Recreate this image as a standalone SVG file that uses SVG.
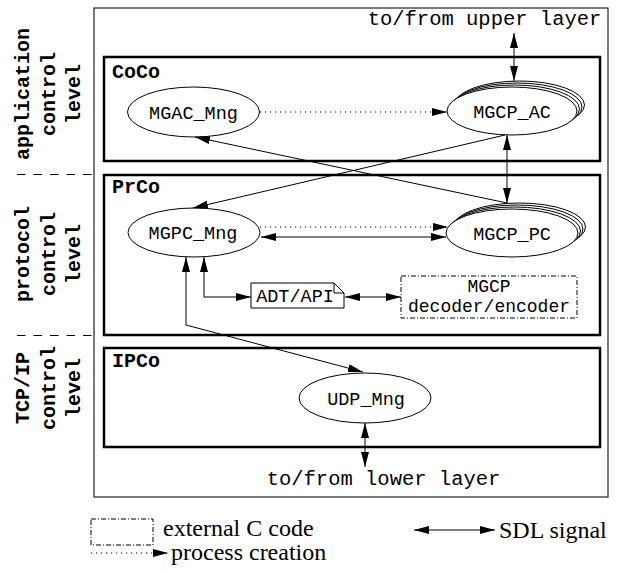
<svg xmlns="http://www.w3.org/2000/svg" width="627" height="571" viewBox="0 0 627 571">
  <style>
    .mono { font-family: "Liberation Mono", "DejaVu Sans Mono", monospace; fill: #000; }
    .lbl { font-size: 18.5px; text-anchor: middle; }
    .sm { font-size: 18px; text-anchor: middle; }
    .io { font-size: 20.5px; text-anchor: middle; }
    .blk { font-size: 20px; font-weight: bold; }
    .lvl { font-size: 20px; font-weight: bold; text-anchor: middle; }
    .serif { font-family: "Liberation Serif", "Times New Roman", serif; font-size: 24px; fill: #000; }
    .block { fill: none; stroke: #000; stroke-width: 2.5; }
    .proc { fill: #fff; stroke: #000; stroke-width: 1; }
    .ext { fill: #fff; stroke: #000; stroke-width: 1; stroke-dasharray: 5 2 1 2; }
    .sig { fill: none; stroke: #000; stroke-width: 1; marker-end: url(#ah); marker-start: url(#ah); }
    .one { fill: none; stroke: #000; stroke-width: 1; marker-end: url(#ah); }
    .crt { fill: none; stroke: #000; stroke-width: 1; stroke-dasharray: 1.2 3.8; marker-end: url(#ah); }
    .sep { fill: none; stroke: #000; stroke-width: 1; stroke-dasharray: 8.5 8; }
  </style>
  <defs>
    <marker id="ah" viewBox="0 0 15 8" refX="15" refY="4" markerWidth="15" markerHeight="8" markerUnits="userSpaceOnUse" orient="auto-start-reverse">
      <path d="M0,0 L15,4 L0,8 z" fill="#000"/>
    </marker>
  </defs>

  <!-- level captions and separators -->
  <g id="levels">
    <text class="mono lvl" transform="translate(29,94) rotate(-90)">application</text>
    <text class="mono lvl" transform="translate(55,94) rotate(-90)">control</text>
    <text class="mono lvl" transform="translate(80,94) rotate(-90)">level</text>
    <text class="mono lvl" transform="translate(29,254) rotate(-90)">protocol</text>
    <text class="mono lvl" transform="translate(55,254) rotate(-90)">control</text>
    <text class="mono lvl" transform="translate(80,254) rotate(-90)">level</text>
    <text class="mono lvl" transform="translate(29,388) rotate(-90)">TCP/IP</text>
    <text class="mono lvl" transform="translate(55,388) rotate(-90)">control</text>
    <text class="mono lvl" transform="translate(80,388) rotate(-90)">level</text>
    <line class="sep" x1="17" y1="174.5" x2="93" y2="174.5"/>
    <line class="sep" x1="17" y1="335.5" x2="93" y2="335.5"/>
  </g>

  <!-- system frame and blocks -->
  <g id="system">
    <rect x="94" y="8" width="514" height="489" fill="none" stroke="#222" stroke-width="1.2"/>
    <text class="mono io" x="484.5" y="25">to/from upper layer</text>
    <text class="mono io" x="383.5" y="485">to/from lower layer</text>
  </g>
  <g id="CoCo">
    <rect class="block" x="104" y="57" width="496" height="104"/>
    <text class="mono blk" x="112" y="78">CoCo</text>
  </g>
  <g id="PrCo">
    <rect class="block" x="104" y="175" width="496" height="160"/>
    <text class="mono blk" x="112" y="193">PrCo</text>
  </g>
  <g id="IPCo">
    <rect class="block" x="104" y="348" width="496" height="99"/>
    <text class="mono blk" x="112" y="367">IPCo</text>
  </g>

  <!-- processes -->
  <g id="MGAC_Mng">
    <ellipse class="proc" cx="193.5" cy="112" rx="66" ry="25"/>
    <text class="mono lbl" x="193.5" y="118.5">MGAC_Mng</text>
  </g>
  <g id="MGCP_AC">
    <ellipse class="proc" cx="519.5" cy="105" rx="65" ry="24"/>
    <ellipse class="proc" cx="517" cy="107" rx="65" ry="24"/>
    <ellipse class="proc" cx="514.5" cy="109" rx="65" ry="24"/>
    <ellipse class="proc" cx="512" cy="111" rx="65" ry="24"/>
    <text class="mono lbl" x="512" y="117.5">MGCP_AC</text>
  </g>
  <g id="MGPC_Mng">
    <ellipse class="proc" cx="194" cy="232.5" rx="66" ry="24.5"/>
    <text class="mono lbl" x="193" y="239">MGPC_Mng</text>
  </g>
  <g id="MGCP_PC">
    <ellipse class="proc" cx="519.5" cy="227" rx="66" ry="24"/>
    <ellipse class="proc" cx="517" cy="229" rx="66" ry="24"/>
    <ellipse class="proc" cx="514.5" cy="231" rx="66" ry="24"/>
    <ellipse class="proc" cx="512" cy="233" rx="66" ry="24"/>
    <text class="mono lbl" x="512" y="240">MGCP_PC</text>
  </g>
  <g id="ADT_API">
    <path class="proc" d="M251,283 H334 L344,293 V308 H251 Z"/>
    <path d="M334,283 V293 H344" fill="none" stroke="#000" stroke-width="1"/>
    <text class="mono lbl" x="295" y="302">ADT/API</text>
  </g>
  <g id="MGCP_codec">
    <rect class="ext" x="401" y="276" width="176" height="42"/>
    <text class="mono sm" x="489" y="292">MGCP</text>
    <text class="mono sm" x="489" y="312">decoder/encoder</text>
  </g>
  <g id="UDP_Mng">
    <ellipse class="proc" cx="365" cy="398" rx="66" ry="25"/>
    <text class="mono lbl" x="366" y="404.5">UDP_Mng</text>
  </g>

  <!-- connectors -->
  <g id="connectors">
    <line class="crt" x1="260" y1="112" x2="447" y2="112"/>
    <line class="sig" x1="514" y1="33" x2="514" y2="81"/>
    <line class="one" x1="507" y1="203" x2="195" y2="137"/>
    <line class="one" x1="505" y1="135" x2="193" y2="208"/>
    <line class="sig" x1="507" y1="135" x2="507" y2="203"/>
    <line class="crt" x1="260" y1="227" x2="448" y2="227"/>
    <line class="sig" x1="261" y1="237" x2="446" y2="237"/>
    <path class="sig" d="M204,257 V297 H251"/>
    <line class="sig" x1="345" y1="297" x2="401" y2="297"/>
    <path class="sig" d="M186,257 V325 L363,372"/>
    <line class="sig" x1="365" y1="423" x2="365" y2="467"/>
  </g>

  <!-- legend -->
  <g id="legend">
    <rect class="ext" x="91" y="519" width="62" height="26"/>
    <text class="serif" x="163" y="536">external C code</text>
    <line class="crt" x1="91" y1="553" x2="168" y2="553"/>
    <text class="serif" x="171" y="560">process creation</text>
    <line class="sig" x1="414" y1="530" x2="495" y2="530"/>
    <text class="serif" x="499" y="538">SDL signal</text>
  </g>
</svg>
